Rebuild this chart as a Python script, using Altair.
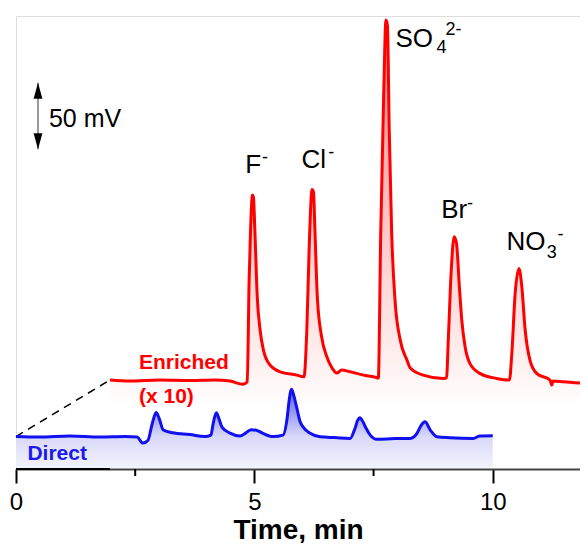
import altair as alt
import pandas as pd

# ---- Direct injection trace (time in min, signal in mV, baseline = 0) ----
direct_t = [0.00, 0.50, 1.13, 1.76, 2.29, 2.54, 2.66, 2.77, 2.85, 2.94, 3.00, 3.09, 3.29, 3.65,
            3.96, 4.09, 4.13, 4.20, 4.26, 4.32, 4.49, 4.70, 4.80, 4.93, 5.06, 5.18, 5.39, 5.60,
            5.69, 5.73, 5.78, 5.83, 5.90, 5.96, 6.02, 6.17, 6.38, 6.69, 7.01, 7.11, 7.17, 7.21,
            7.28, 7.34, 7.43, 7.57, 7.95, 8.27, 8.41, 8.50, 8.58, 8.69, 8.83, 9.10, 9.59, 9.73, 10.0]
direct_mv = [0.4, 0.0, 0.8, 0.0, 0.4, 0.0, -4.5, -2.3, 9.0, 18.4, 14.3, 5.3, 3.2, 1.9,
             0.4, 1.5, 9.0, 18.3, 13.5, 7.5, 3.0, 0.8, 2.6, 5.6, 4.9, 2.8, 0.4, 1.5,
             15.0, 27.8, 35.9, 30.8, 20.3, 11.5, 7.7, 2.8, 0.2, -0.4, -1.0, 6.5, 12.8, 14.5,
             11.3, 6.8, 1.5, -1.7, -1.1, -1.0, 2.8, 9.0, 11.5, 5.3, 0.2, -0.5, -1.0, 0.8, 1.0]

# ---- Enriched trace (x 10), drawn offset ----
enriched_t = [1.97, 2.39, 3.02, 3.65, 4.17, 4.49, 4.76, 4.85, 4.89, 4.92, 4.96, 4.98, 5.01, 5.06,
              5.12, 5.19, 5.33, 5.54, 5.89, 6.04, 6.10, 6.15, 6.21, 6.24, 6.27, 6.32, 6.41, 6.52,
              6.63, 6.73, 6.83, 7.01, 7.29, 7.53, 7.60, 7.65, 7.71, 7.76, 7.79, 7.83, 7.88, 7.95,
              8.06, 8.20, 8.27, 8.54, 8.96, 9.03, 9.07, 9.13, 9.19, 9.24, 9.30, 9.35, 9.42, 9.52,
              9.73, 10.08, 10.35, 10.40, 10.47, 10.55, 10.61, 10.68, 10.78, 10.92, 11.20, 11.24,
              11.26, 11.48, 11.83]
enriched_mv = [42.9, 42.1, 42.9, 42.5, 42.9, 42.1, 39.8, 41.4, 118.0, 155.6, 182.0, 180.5, 155.6, 105.5,
               80.5, 65.4, 54.1, 49.1, 46.6, 45.3, 80.5, 143.1, 186.2, 184.2, 155.6, 105.5, 75.4, 60.4,
               51.9, 48.1, 50.4, 49.1, 46.6, 45.1, 44.4, 153.4, 253.4, 313.5, 309.8, 228.6, 153.4, 103.0,
               72.9, 57.9, 51.9, 46.6, 44.1, 44.4, 75.4, 125.6, 150.6, 145.6, 113.0, 88.0, 67.9, 55.4,
               47.9, 44.1, 42.9, 62.9, 108.0, 126.8, 113.0, 80.5, 57.9, 47.9, 42.9, 39.1,
               42.1, 41.6, 40.6]

# ---- Peak labels (main text, subscripts, superscripts) ----
ion_main = ["F", "Cl", "SO", "Br", "NO"]
ion_main_t = [4.81, 5.99, 7.96, 8.92, 10.29]
ion_main_mv = [198.5, 202.3, 293.5, 164.7, 140.6]
ion_sub = ["4", "3"]
ion_sub_t = [8.82, 11.13]
ion_sub_mv = [288.7, 134.6]
ion_sup = ["-", "-", "2-", "-", "-"]
ion_sup_t = [5.16, 6.55, 9.01, 9.46, 11.36]
ion_sup_mv = [205.7, 210.2, 302.3, 171.8, 148.5]

# ---- Trace labels ----
trace_labels = ["Enriched", "(x 10)", "Direct"]
trace_label_t = [2.58, 2.58, 0.24]
trace_label_mv = [51.1, 25.6, -17.3]
trace_label_color = ["#ff0000", "#ff0000", "#1a1aee"]

# ---- Scale bar ----
scale_bar_t = 0.4615
scale_bar_bottom_mv = 216.5
scale_bar_mv = 50
scale_bar_text = "50 mV"

# ---- Axis ----
x_ticks = [0, 5, 10]
x_minor_ticks = [2.5, 7.5]
x_domain = [0, 11.83]
y_domain = [-24, 316.6]
connector_t = [0.0, 1.97]
connector_mv = [0.4, 42.9]

FONT = "Liberation Sans"

direct = pd.DataFrame({"t": direct_t, "mv": direct_mv})
direct["base"] = -23.0
enriched = pd.DataFrame({"t": enriched_t, "mv": enriched_mv})
enriched["base"] = 22.0

xs = alt.Scale(domain=x_domain, nice=False, zero=False)
ys = alt.Scale(domain=y_domain, nice=False, zero=False)

X = alt.X("t:Q", scale=xs,
          axis=alt.Axis(values=x_ticks, tickSize=14, tickWidth=2, tickColor="black",
                        domainColor="#444444", domainWidth=2, grid=False,
                        labelFont=FONT, labelFontSize=24, labelColor="black",
                        labelPadding=7, labelFlush=False,
                        title="Time, min", titleFont=FONT, titleFontSize=28,
                        titleFontWeight="bold", titleColor="black",
                        titleBaseline="alphabetic", titleY=69))
Y = alt.Y("mv:Q", scale=ys, axis=None)

red_grad = alt.Gradient(gradient="linear", x1=0, x2=0, y1=0, y2=1,
                        stops=[alt.GradientStop(offset=0, color="#ff8080"),
                               alt.GradientStop(offset=0.5, color="#ffc4c4"),
                               alt.GradientStop(offset=0.9, color="#fff2f2"),
                               alt.GradientStop(offset=1, color="#ffffff")])
blue_grad = alt.Gradient(gradient="linear", x1=0, x2=0, y1=0, y2=1,
                         stops=[alt.GradientStop(offset=0, color="#6060ee"),
                                alt.GradientStop(offset=0.6, color="#d8d8f9"),
                                alt.GradientStop(offset=1, color="#f3f3fe")])

SMOOTH = "monotone"
red_area = alt.Chart(enriched).mark_area(color=red_grad, interpolate=SMOOTH).encode(
    x=X, y=Y, y2="base:Q")
blue_area = alt.Chart(direct).mark_area(color=blue_grad, interpolate=SMOOTH).encode(
    x="t:Q", y="mv:Q", y2="base:Q")
red_line = alt.Chart(enriched).mark_line(color="#ff0000", strokeWidth=3, interpolate=SMOOTH).encode(
    x="t:Q", y="mv:Q")
blue_line = alt.Chart(direct).mark_line(color="#1010f0", strokeWidth=3, interpolate=SMOOTH).encode(
    x="t:Q", y="mv:Q")

connector = alt.Chart(pd.DataFrame({"t": connector_t, "mv": connector_mv})).mark_line(
    color="black", strokeWidth=1.5, strokeDash=[8, 6]).encode(x="t:Q", y="mv:Q")

# axis decorations: minor ticks and dark start of the axis line
minor = alt.Chart(pd.DataFrame({"t": x_minor_ticks})).mark_rule(
    color="black", strokeWidth=2).encode(x="t:Q", y=alt.value(453), y2=alt.value(460))
axis_start = alt.Chart(pd.DataFrame({"t": [connector_t[0]], "t2": [connector_t[1]]})).mark_rule(
    color="black", strokeWidth=2).encode(x="t:Q", x2="t2:Q", y=alt.value(453))

main_lbl = alt.Chart(pd.DataFrame({"t": ion_main_t, "mv": ion_main_mv, "lab": ion_main})).mark_text(
    font=FONT, fontSize=26, align="left", baseline="alphabetic", color="black").encode(
    x="t:Q", y="mv:Q", text="lab:N")
sub_lbl = alt.Chart(pd.DataFrame({"t": ion_sub_t, "mv": ion_sub_mv, "lab": ion_sub})).mark_text(
    font=FONT, fontSize=18, align="left", baseline="alphabetic", color="black").encode(
    x="t:Q", y="mv:Q", text="lab:N")
sup_lbl = alt.Chart(pd.DataFrame({"t": ion_sup_t, "mv": ion_sup_mv, "lab": ion_sup})).mark_text(
    font=FONT, fontSize=18, align="left", baseline="alphabetic", color="black").encode(
    x="t:Q", y="mv:Q", text="lab:N")

trace_lbl = alt.Chart(pd.DataFrame({"t": trace_label_t, "mv": trace_label_mv,
                                    "lab": trace_labels, "col": trace_label_color})).mark_text(
    font=FONT, fontSize=21, fontWeight="bold", align="left", baseline="alphabetic").encode(
    x="t:Q", y="mv:Q", text="lab:N", color=alt.Color("col:N", scale=None))

sb = pd.DataFrame({"t": [scale_bar_t], "lo": [scale_bar_bottom_mv],
                   "hi": [scale_bar_bottom_mv + scale_bar_mv]})
sb_line = alt.Chart(sb).mark_rule(color="#777777", strokeWidth=1.5).encode(
    x="t:Q", y="lo:Q", y2="hi:Q")
sb_up = alt.Chart(sb).mark_point(shape="M0,0L0.55,2L-0.55,2Z", size=256, filled=True,
                                 color="black", opacity=1).encode(x="t:Q", y="hi:Q")
sb_down = alt.Chart(sb).mark_point(shape="M0,0L0.55,-2L-0.55,-2Z", size=256, filled=True,
                                   color="black", opacity=1).encode(x="t:Q", y="lo:Q")
sb_text = alt.Chart(pd.DataFrame({"t": [0.69], "mv": [233.1], "lab": [scale_bar_text]})).mark_text(
    font=FONT, fontSize=25, align="left", baseline="alphabetic", color="black").encode(
    x="t:Q", y="mv:Q", text="lab:N")

chart = alt.layer(
    red_area, blue_area, connector, axis_start, minor, red_line, blue_line,
    main_lbl, sub_lbl, sup_lbl, trace_lbl, sb_line, sb_up, sb_down, sb_text
).properties(
    width=564, height=453,
    autosize=alt.AutoSizeParams(type="none"),
    padding={"left": 8, "top": 8, "right": 0, "bottom": 74},
).configure_view(stroke=None).configure(background="white")

chart.save("out.html", embed_options={"renderer": "svg", "actions": False})
